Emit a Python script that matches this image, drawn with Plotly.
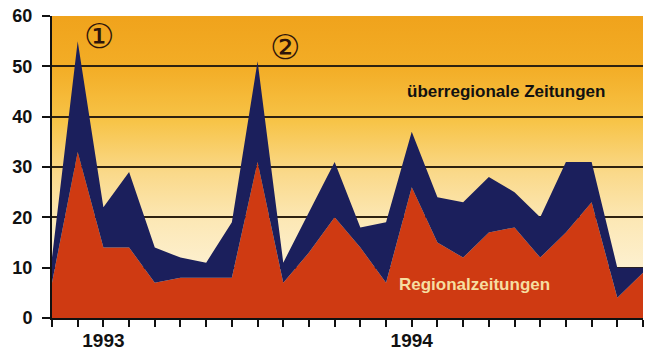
import base64
import plotly.graph_objects as go

# Monthly index positions, Nov 1992 .. Sep 1994
months = list(range(24))
tick_text = ["", "", "1993"] + [""] * 11 + ["1994"] + [""] * 9
y_ticks = [0, 10, 20, 30, 40, 50, 60]

# Values per month (stacked): regional papers at the bottom, national papers on top
regionalzeitungen = [7, 33, 14, 14, 7, 8, 8, 8, 31, 7, 13, 20,
                     14, 7, 26, 15, 12, 17, 18, 12, 17, 23, 4, 9]
ueberregionale = [5, 22, 8, 15, 7, 4, 3, 11, 20, 4, 8, 11,
                  4, 12, 11, 9, 11, 11, 7, 8, 14, 8, 6, 1]

RED = "#cf3a12"
NAVY = "#1b1f5c"
GRID = "#2e2210"

# Vertical orange-to-cream gradient used as the plot background
svg = (
    '<svg xmlns="http://www.w3.org/2000/svg" width="100" height="100" '
    'viewBox="0 0 100 100" preserveAspectRatio="none">'
    '<defs><linearGradient id="g" x1="0" y1="0" x2="0" y2="1">'
    '<stop offset="0" stop-color="#f0a31c"/>'
    '<stop offset="0.17" stop-color="#f3ad26"/>'
    '<stop offset="0.35" stop-color="#f7c448"/>'
    '<stop offset="0.52" stop-color="#fad98a"/>'
    '<stop offset="0.68" stop-color="#fce8b6"/>'
    '<stop offset="0.85" stop-color="#fdf1d2"/>'
    '<stop offset="1" stop-color="#fdf3d8"/>'
    '</linearGradient></defs>'
    '<rect width="100" height="100" fill="url(#g)"/></svg>'
)
bg_src = "data:image/svg+xml;base64," + base64.b64encode(svg.encode()).decode()

fig = go.Figure()
fig.add_trace(go.Scatter(
    x=months, y=regionalzeitungen, name="Regionalzeitungen",
    stackgroup="one", mode="lines", line=dict(width=0, color=RED),
    fillcolor=RED, hoverinfo="skip",
))
fig.add_trace(go.Scatter(
    x=months, y=ueberregionale, name="überregionale Zeitungen",
    stackgroup="one", mode="lines", line=dict(width=0, color=NAVY),
    fillcolor=NAVY, hoverinfo="skip",
))

fig.add_layout_image(dict(
    source=bg_src, xref="x", yref="y", x=0, y=60, sizex=23, sizey=60,
    sizing="stretch", layer="below", xanchor="left", yanchor="top",
))

label_font = dict(family="Liberation Sans, Arial, sans-serif", size=17)
fig.add_annotation(x=17.68, y=45.1, text="<b>überregionale Zeitungen</b>",
                   showarrow=False, font=dict(color="#111111", **label_font))
fig.add_annotation(x=16.46, y=6.6, text="<b>Regionalzeitungen</b>",
                   showarrow=False, font=dict(color="#f6dea0", **label_font))

circ_font = dict(family="DejaVu Sans, sans-serif", size=34, color="#2e140a")
fig.add_annotation(x=1.81, y=56.0, text="\u2460", showarrow=False, font=circ_font)
fig.add_annotation(x=9.05, y=53.8, text="\u2461", showarrow=False, font=circ_font)

tick_font = dict(family="Liberation Sans, Arial, sans-serif", size=18, color="#111111")
fig.update_layout(
    width=651, height=350,
    margin=dict(l=52, r=8, t=16, b=32, autoexpand=False),
    paper_bgcolor="white", plot_bgcolor="white",
    showlegend=False,
    xaxis=dict(
        range=[0, 23], tickvals=months,
        ticktext=[f"<b>{t}</b>" if t else "" for t in tick_text],
        ticks="outside", ticklen=7, tickwidth=1.5, tickcolor="#111111",
        showline=True, linecolor="#111111", linewidth=2,
        showgrid=False, zeroline=False, automargin=False,
        tickfont=dict(tick_font, size=19), ticklabelstandoff=-3,
    ),
    yaxis=dict(
        range=[0, 60], tickvals=y_ticks,
        ticktext=[f"<b>{v}</b>" for v in y_ticks],
        ticks="outside", ticklen=8, tickwidth=1.5, tickcolor="#111111",
        showline=True, linecolor="#111111", linewidth=2,
        showgrid=True, gridcolor=GRID, gridwidth=1.5,
        zeroline=False, automargin=False,
        tickfont=tick_font, ticklabelstandoff=6,
    ),
)

fig.write_html("out.html")
